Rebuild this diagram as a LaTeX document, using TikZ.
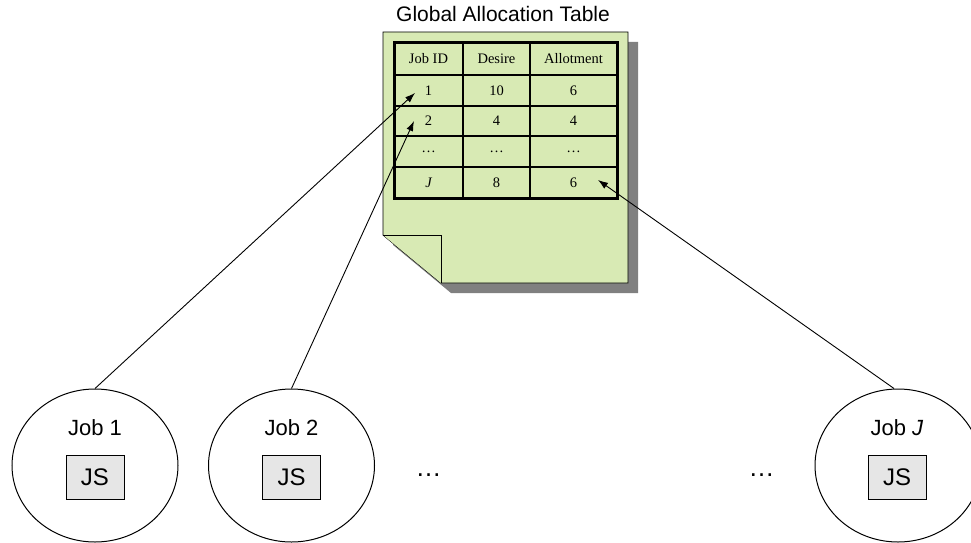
\documentclass[tikz,border=0pt]{standalone}
\usepackage{fontspec}
\setmainfont{Liberation Sans}
\newfontfamily\tms{Liberation Serif}
\usetikzlibrary{shapes.geometric,arrows.meta}
\definecolor{paper}{HTML}{D8EAB4}
\definecolor{shadowgray}{HTML}{808080}
\definecolor{jsfill}{HTML}{E6E6E6}
\tikzset{
  jobnode/.style={ellipse, draw, line width=1pt, minimum width=166pt, minimum height=153pt, inner sep=0pt},
  jsbox/.style={draw, line width=0.9pt, fill=jsfill, minimum width=58pt, minimum height=44pt, inner sep=0pt, font=\fontsize{24}{28}\selectfont},
  joblabel/.style={anchor=base, inner sep=0pt, font=\fontsize{22}{26}\selectfont},
  cell/.style={inner sep=0pt, font=\tms\fontsize{14.5}{17}\selectfont},
  dots/.style={anchor=base, inner sep=0pt, font=\fontsize{26}{30}\selectfont},
  link/.style={line width=0.9pt, -{Latex[length=10pt,width=7pt]}}
}
\begin{document}
\begin{tikzpicture}[x=1pt,y=-1pt]
\useasboundingbox (0,0) rectangle (971,543);
\clip (0,0) rectangle (971,543);
% title
\node[anchor=base, inner sep=0pt, font=\fontsize{21}{25}\selectfont] (title) at (503,22) {Global Allocation Table};
% paper shadow
\fill[shadowgray] (393,42) -- (638,42) -- (638,293) -- (451,293) -- (393,245) -- cycle;
% paper
\draw[fill=paper, line width=0.9pt] (383,32) -- (628,32) -- (628,283) -- (441,283) -- (383,235) -- cycle;
\draw[fill=paper, line width=0.9pt] (383,235) -- (441,235) -- (441,283);
% table grid
\foreach \x in {463,530} \draw[line width=1.4pt] (\x,43) -- (\x,198);
\foreach \y in {75,106,136,167} \draw[line width=1.4pt] (394,\y) -- (617,\y);
\draw[line width=3pt] (394,43) rectangle (617,198);
% cells
\node[cell] (h1) at (428.5,59) {Job ID};
\node[cell] (h2) at (496.5,59) {Desire};
\node[cell] (h3) at (573.5,59) {Allotment};
\node[cell] (a1) at (428.5,90.5) {1};
\node[cell] (a2) at (496.5,90.5) {10};
\node[cell] (a3) at (573.5,90.5) {6};
\node[cell] (b1) at (428.5,121) {2};
\node[cell] (b2) at (496.5,121) {4};
\node[cell] (b3) at (573.5,121) {4};
\node[cell] (d1) at (428.5,151.5) {\dots};
\node[cell] (d2) at (496.5,151.5) {\dots};
\node[cell] (d3) at (573.5,151.5) {\dots};
\node[cell] (j1) at (428.5,182.5) {\itshape J};
\node[cell] (j2) at (496.5,182.5) {8};
\node[cell] (j3) at (573.5,182.5) {6};
\coordinate (t1) at (415,93);
\coordinate (t2) at (414,121);
\coordinate (tJ) at (598,180);
% jobs
\node[jobnode] (job1) at (95,465.5) {};
\node[jobnode] (job2) at (291.5,465.5) {};
\node[jobnode] (jobJ) at (898,465.5) {};
\node[joblabel] (l1) at (95,435) {Job 1};
\node[joblabel] (l2) at (291.5,435) {Job 2};
\node[joblabel] (lJ) at (897,435) {Job \textit{J}};
\node[jsbox] (js1) at (95,477) {JS};
\node[jsbox] (js2) at (291.5,477) {JS};
\node[jsbox] (jsJ) at (897,477) {JS};
\node[dots] (dl) at (428.5,476) {\dots};
\node[dots] (dr) at (761.5,476) {\dots};
% links
\draw[link] (job1.north) -- (t1);
\draw[link] (job2.north) -- (t2);
\draw[link] ([xshift=-4pt]jobJ.north) -- (tJ);
\end{tikzpicture}
\end{document}
